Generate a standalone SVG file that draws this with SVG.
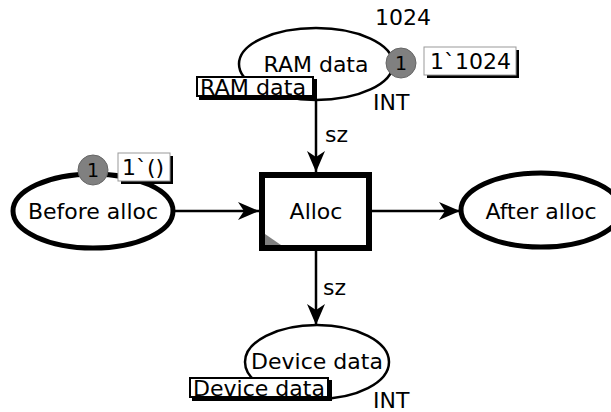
<svg xmlns="http://www.w3.org/2000/svg" width="611" height="412" viewBox="0 0 611 412">
<defs>
<style>
text{font-family:"DejaVu Sans","Liberation Sans",sans-serif;font-size:22px;fill:#000}
.mid{text-anchor:middle}
.place{fill:#fff;stroke:#000}
.thin{stroke-width:2.5}
.thick{stroke-width:5}
.arc{stroke:#000;stroke-width:2.5;fill:none}
.tok{fill:#808080;stroke:#666;stroke-width:1}
.mbox{fill:#fff;stroke:#999;stroke-width:1}
.shadow{fill:#000}
.lbl{fill:#fff;stroke:#000;stroke-width:2}
</style>
<marker id="ah" markerWidth="24" markerHeight="24" viewBox="-22 -12 24 24" refX="0" refY="0" orient="auto" markerUnits="userSpaceOnUse">
<path d="M0,0 L-21,-9 L-15,0 L-21,9 Z" fill="#000"/>
</marker>
</defs>
<g id="connectors">
<line class="arc" x1="316" y1="98" x2="316" y2="172" marker-end="url(#ah)"/>
<text x="325" y="142">sz</text>
<line class="arc" x1="173" y1="211" x2="259" y2="211" marker-end="url(#ah)"/>
<line class="arc" x1="372" y1="211" x2="460" y2="211" marker-end="url(#ah)"/>
<line class="arc" x1="316" y1="251" x2="316" y2="325" marker-end="url(#ah)"/>
<text x="323" y="295">sz</text>
</g>
<g id="ram-data">
<ellipse class="place thin" cx="316" cy="64" rx="77" ry="36"/>
<text class="mid" x="316" y="72">RAM data</text>
<text class="mid" x="403" y="25">1024</text>
<text x="373" y="110">INT</text>
<rect class="shadow" x="199" y="79" width="118" height="21"/>
<rect class="lbl" x="197" y="77" width="116" height="19"/>
<text x="200" y="95" textLength="106" lengthAdjust="spacingAndGlyphs">RAM data</text>
<circle class="tok" cx="401" cy="63" r="15"/>
<text class="mid" x="401" y="70" style="font-size:19px">1</text>
<rect class="shadow" x="427" y="50" width="92" height="28"/>
<rect class="mbox" x="424" y="47" width="92" height="28"/>
<text x="430" y="69">1`1024</text>
</g>
<g id="before-alloc">
<ellipse class="place thick" cx="93" cy="211" rx="80" ry="37"/>
<text class="mid" x="93" y="219">Before alloc</text>
<circle class="tok" cx="93" cy="170" r="15"/>
<text class="mid" x="93" y="177" style="font-size:19px">1</text>
<rect class="shadow" x="121" y="156" width="52" height="28"/>
<rect class="mbox" x="118" y="153" width="52" height="28"/>
<text x="122" y="175">1`()</text>
</g>
<g id="alloc">
<rect x="262" y="175" width="107" height="73" fill="#fff" stroke="#000" stroke-width="6"/>
<path d="M265,234 L265,245 L281,245 Z" fill="#808080"/>
<text class="mid" x="316" y="219">Alloc</text>
</g>
<g id="after-alloc">
<ellipse class="place thick" cx="541" cy="210" rx="80" ry="37"/>
<text class="mid" x="541" y="219">After alloc</text>
</g>
<g id="device-data">
<ellipse class="place thin" cx="317" cy="362" rx="72" ry="37"/>
<text class="mid" x="317" y="369">Device data</text>
<rect class="shadow" x="192" y="380" width="140" height="21"/>
<rect class="lbl" x="190" y="378" width="138" height="19"/>
<text x="193" y="396" textLength="132" lengthAdjust="spacingAndGlyphs">Device data</text>
<text x="373" y="408">INT</text>
</g>
</svg>
